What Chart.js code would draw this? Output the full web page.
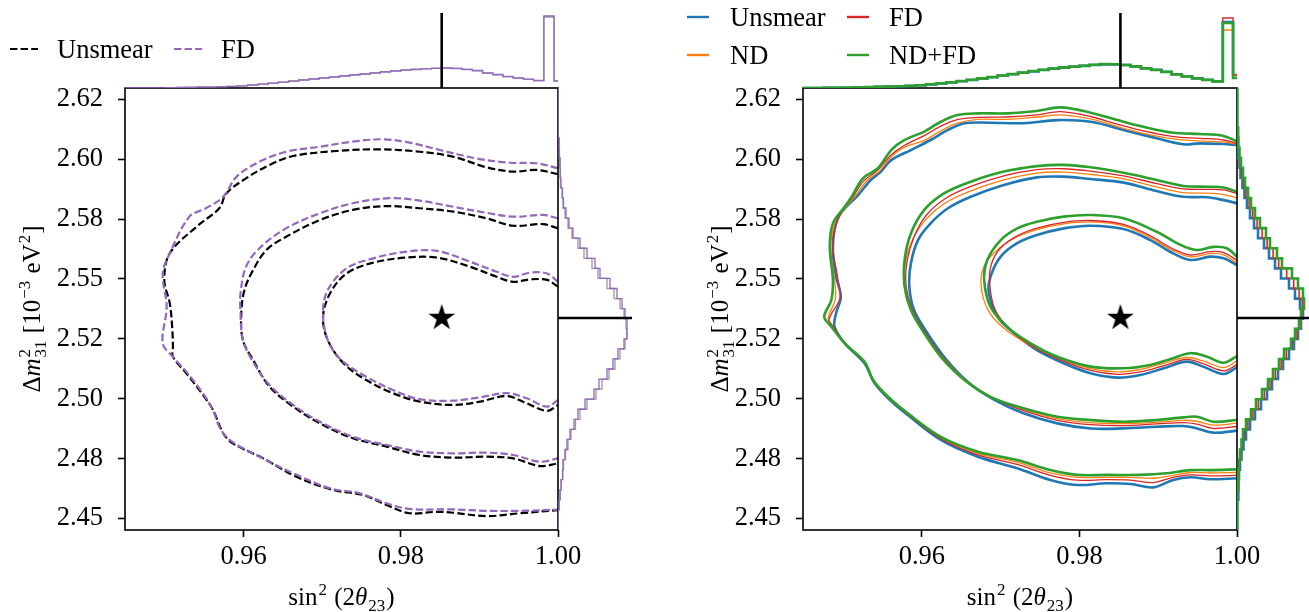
<!DOCTYPE html>
<html>
<head>
<meta charset="utf-8">
<script src="https://cdn.jsdelivr.net/npm/chart.js@4.4.1/dist/chart.umd.min.js"></script>
<style>
  body { margin: 0; background: #fff; }
  #fig { position: relative; width: 1309px; height: 612px; overflow: hidden; background: #fff;
         font-family: 'Liberation Serif', 'DejaVu Serif', serif; color: #000; }
  #fig canvas { position: absolute; }
  .sw { position: absolute; }
  .lt { position: absolute; font-size: 26.5px; line-height: 30px; white-space: nowrap; }
</style>
</head>
<body>
<div id="fig">
  <canvas id="mainL" width="600" height="532" style="left:0;top:80px"></canvas>
  <canvas id="mainR" width="620" height="532" style="left:680px;top:80px"></canvas>
  <canvas id="topL" width="433" height="80" style="left:125px;top:8px"></canvas>
  <canvas id="sideL" width="76" height="442" style="left:558px;top:88px"></canvas>
  <canvas id="topR" width="434" height="80" style="left:803px;top:8px"></canvas>
  <canvas id="sideR" width="72" height="442" style="left:1237px;top:88px"></canvas>

  <!-- left legend -->
  <svg class="sw" width="28" height="6" style="left:10px;top:46px"><line x1="0" y1="3" x2="28" y2="3" stroke="#000" stroke-width="2.2" stroke-dasharray="7.4 3.2"/></svg>
  <div class="lt" style="left:57px;top:34px">Unsmear</div>
  <svg class="sw" width="28" height="6" style="left:174px;top:46px"><line x1="0" y1="3" x2="28" y2="3" stroke="#9467bd" stroke-width="2.2" stroke-dasharray="7.4 3.2"/></svg>
  <div class="lt" style="left:221px;top:34px">FD</div>

  <!-- right legend -->
  <svg class="sw" width="22" height="6" style="left:687px;top:14px"><line x1="0" y1="3" x2="22" y2="3" stroke="#1f77b4" stroke-width="2.4"/></svg>
  <div class="lt" style="left:730px;top:2px">Unsmear</div>
  <svg class="sw" width="22" height="6" style="left:847px;top:14px"><line x1="0" y1="3" x2="22" y2="3" stroke="#d62728" stroke-width="2.4"/></svg>
  <div class="lt" style="left:889px;top:2px">FD</div>
  <svg class="sw" width="22" height="6" style="left:687px;top:52px"><line x1="0" y1="3" x2="22" y2="3" stroke="#ff7f0e" stroke-width="2.4"/></svg>
  <div class="lt" style="left:730px;top:40px">ND</div>
  <svg class="sw" width="22" height="6" style="left:847px;top:52px"><line x1="0" y1="3" x2="22" y2="3" stroke="#2ca02c" stroke-width="2.4"/></svg>
  <div class="lt" style="left:889px;top:40px">ND+FD</div>
</div>
<script>
// axes
const X_MIN = 0.9449, X_MAX = 1.0;
const Y_MIN = 2.4452, Y_MAX = 2.6297;
const xTickValues = [0.96, 0.98, 1.00];
const xTickLabels = ['0.96', '0.98', '1.00'];
const yTickValues = [2.45, 2.475, 2.5, 2.525, 2.55, 2.575, 2.6, 2.625];
const yTickLabels = ['2.45', '2.48', '2.50', '2.52', '2.55', '2.58', '2.60', '2.62'];
const bestFit = [0.9852, 2.5337];

// marginal histogram binning
const X_BIN0 = 0.9449, X_BINW = 0.0013;
const Y_BIN0 = 2.4452, Y_BINW = 0.0042;

// ---- left panel contours: [sin^2(2th23), dm2_31] ----
const lUnsmearOuter = [[1.0000,2.5937],[0.9973,2.5955],[0.9943,2.5948],[0.9909,2.5966],[0.9867,2.6010],[0.9824,2.6031],[0.9773,2.6041],[0.9718,2.6034],[0.9663,2.6013],[0.9633,2.5976],[0.9603,2.5920],[0.9578,2.5857],[0.9569,2.5795],[0.9540,2.5718],[0.9506,2.5607],[0.9499,2.5496],[0.9506,2.5398],[0.9509,2.5301],[0.9510,2.5217],[0.9510,2.5175],[0.9527,2.5106],[0.9550,2.5008],[0.9561,2.4953],[0.9574,2.4856],[0.9586,2.4814],[0.9625,2.4751],[0.9667,2.4674],[0.9714,2.4619],[0.9752,2.4598],[0.9782,2.4556],[0.9811,2.4522],[0.9846,2.4528],[0.9867,2.4524],[0.9909,2.4510],[0.9952,2.4522],[1.0000,2.4535]];
const lFdOuter = [[1.0000,2.5962],[0.9973,2.5983],[0.9939,2.5985],[0.9896,2.6003],[0.9850,2.6038],[0.9811,2.6069],[0.9777,2.6083],[0.9739,2.6073],[0.9697,2.6052],[0.9654,2.6031],[0.9620,2.5989],[0.9591,2.5927],[0.9574,2.5843],[0.9552,2.5795],[0.9531,2.5760],[0.9506,2.5607],[0.9497,2.5523],[0.9502,2.5384],[0.9497,2.5231],[0.9510,2.5175],[0.9527,2.5113],[0.9548,2.5023],[0.9561,2.4953],[0.9569,2.4883],[0.9582,2.4828],[0.9620,2.4758],[0.9663,2.4689],[0.9710,2.4626],[0.9748,2.4605],[0.9782,2.4563],[0.9811,2.4540],[0.9867,2.4538],[0.9909,2.4532],[0.9952,2.4532],[1.0000,2.4537]];
const lUnsmearMid = [[1.0000,2.5711],[0.9981,2.5729],[0.9943,2.5722],[0.9909,2.5753],[0.9867,2.5781],[0.9824,2.5795],[0.9782,2.5804],[0.9739,2.5788],[0.9697,2.5746],[0.9654,2.5676],[0.9629,2.5621],[0.9612,2.5537],[0.9601,2.5454],[0.9597,2.5357],[0.9599,2.5245],[0.9612,2.5162],[0.9633,2.5050],[0.9663,2.4967],[0.9697,2.4897],[0.9739,2.4835],[0.9782,2.4800],[0.9824,2.4765],[0.9867,2.4754],[0.9909,2.4758],[0.9943,2.4751],[0.9977,2.4719],[1.0000,2.4730]];
const lFdMid = [[1.0000,2.5753],[0.9981,2.5767],[0.9943,2.5760],[0.9909,2.5776],[0.9867,2.5801],[0.9824,2.5827],[0.9786,2.5837],[0.9739,2.5816],[0.9697,2.5774],[0.9654,2.5711],[0.9620,2.5628],[0.9603,2.5551],[0.9596,2.5440],[0.9596,2.5357],[0.9599,2.5245],[0.9612,2.5154],[0.9633,2.5057],[0.9663,2.4974],[0.9697,2.4904],[0.9739,2.4841],[0.9782,2.4807],[0.9824,2.4779],[0.9867,2.4772],[0.9909,2.4775],[0.9943,2.4765],[0.9977,2.4737],[1.0000,2.4751]];
const lUnsmearIn = [[1.0000,2.5468],[0.9986,2.5496],[0.9964,2.5498],[0.9943,2.5488],[0.9922,2.5509],[0.9888,2.5551],[0.9846,2.5589],[0.9807,2.5589],[0.9765,2.5568],[0.9731,2.5523],[0.9710,2.5440],[0.9701,2.5342],[0.9707,2.5245],[0.9727,2.5148],[0.9756,2.5078],[0.9790,2.5023],[0.9824,2.4988],[0.9867,2.4974],[0.9901,2.4988],[0.9935,2.5011],[0.9960,2.4981],[0.9986,2.4949],[1.0000,2.4974]];
const lFdIn = [[1.0000,2.5488],[0.9986,2.5523],[0.9964,2.5526],[0.9943,2.5509],[0.9922,2.5530],[0.9888,2.5572],[0.9846,2.5617],[0.9807,2.5614],[0.9765,2.5586],[0.9731,2.5544],[0.9707,2.5454],[0.9701,2.5357],[0.9707,2.5245],[0.9724,2.5162],[0.9756,2.5092],[0.9790,2.5036],[0.9824,2.4998],[0.9867,2.4992],[0.9901,2.5006],[0.9935,2.5023],[0.9960,2.5002],[0.9986,2.4967],[1.0000,2.4995]];

// ---- right panel contours ----
const rUnsmearOuter = [[1.0000,2.6059],[0.9983,2.6063],[0.9953,2.6066],[0.9932,2.6062],[0.9898,2.6087],[0.9856,2.6122],[0.9814,2.6156],[0.9772,2.6163],[0.9729,2.6150],[0.9687,2.6152],[0.9654,2.6150],[0.9633,2.6122],[0.9611,2.6080],[0.9586,2.6038],[0.9561,2.5996],[0.9548,2.5948],[0.9535,2.5913],[0.9519,2.5850],[0.9497,2.5774],[0.9489,2.5704],[0.9487,2.5607],[0.9491,2.5509],[0.9497,2.5426],[0.9491,2.5357],[0.9489,2.5301],[0.9502,2.5231],[0.9527,2.5148],[0.9540,2.5064],[0.9557,2.5002],[0.9582,2.4932],[0.9624,2.4828],[0.9671,2.4758],[0.9721,2.4710],[0.9763,2.4661],[0.9797,2.4640],[0.9835,2.4647],[0.9865,2.4644],[0.9894,2.4630],[0.9919,2.4661],[0.9941,2.4672],[0.9966,2.4664],[1.0000,2.4668]];
const rNdOuter = [[1.0000,2.6062],[0.9983,2.6072],[0.9953,2.6076],[0.9919,2.6085],[0.9881,2.6108],[0.9848,2.6136],[0.9814,2.6168],[0.9776,2.6185],[0.9746,2.6176],[0.9708,2.6166],[0.9671,2.6166],[0.9645,2.6150],[0.9624,2.6118],[0.9603,2.6078],[0.9578,2.6050],[0.9561,2.6010],[0.9546,2.5950],[0.9530,2.5910],[0.9515,2.5845],[0.9500,2.5785],[0.9488,2.5715],[0.9484,2.5630],[0.9489,2.5500],[0.9490,2.5415],[0.9481,2.5335],[0.9488,2.5298],[0.9502,2.5231],[0.9527,2.5152],[0.9539,2.5072],[0.9557,2.5005],[0.9582,2.4937],[0.9624,2.4837],[0.9671,2.4772],[0.9721,2.4735],[0.9763,2.4690],[0.9797,2.4672],[0.9835,2.4672],[0.9865,2.4672],[0.9894,2.4668],[0.9919,2.4680],[0.9941,2.4692],[0.9966,2.4690],[1.0000,2.4692]];
const rFdOuter = [[1.0000,2.6066],[0.9983,2.6080],[0.9953,2.6087],[0.9919,2.6094],[0.9881,2.6118],[0.9848,2.6146],[0.9814,2.6178],[0.9776,2.6198],[0.9746,2.6185],[0.9708,2.6176],[0.9671,2.6174],[0.9645,2.6165],[0.9624,2.6138],[0.9603,2.6098],[0.9578,2.6058],[0.9561,2.6018],[0.9544,2.5955],[0.9525,2.5905],[0.9512,2.5840],[0.9500,2.5790],[0.9490,2.5722],[0.9487,2.5630],[0.9493,2.5505],[0.9496,2.5420],[0.9482,2.5330],[0.9489,2.5295],[0.9502,2.5231],[0.9527,2.5150],[0.9539,2.5070],[0.9557,2.5004],[0.9582,2.4935],[0.9624,2.4833],[0.9671,2.4766],[0.9721,2.4726],[0.9763,2.4680],[0.9797,2.4660],[0.9835,2.4662],[0.9865,2.4660],[0.9894,2.4650],[0.9919,2.4672],[0.9941,2.4682],[0.9966,2.4678],[1.0000,2.4680]];
const rNdFdOuter = [[1.0000,2.6073],[0.9983,2.6097],[0.9953,2.6105],[0.9919,2.6110],[0.9881,2.6135],[0.9848,2.6163],[0.9814,2.6194],[0.9776,2.6216],[0.9746,2.6201],[0.9708,2.6191],[0.9671,2.6191],[0.9645,2.6184],[0.9624,2.6156],[0.9603,2.6115],[0.9578,2.6080],[0.9561,2.6038],[0.9544,2.5962],[0.9525,2.5920],[0.9512,2.5850],[0.9502,2.5801],[0.9487,2.5732],[0.9483,2.5634],[0.9487,2.5496],[0.9485,2.5412],[0.9476,2.5342],[0.9485,2.5301],[0.9502,2.5231],[0.9527,2.5155],[0.9538,2.5078],[0.9557,2.5008],[0.9582,2.4939],[0.9624,2.4841],[0.9671,2.4779],[0.9721,2.4744],[0.9763,2.4702],[0.9797,2.4682],[0.9835,2.4682],[0.9877,2.4682],[0.9911,2.4689],[0.9941,2.4702],[0.9966,2.4702],[1.0000,2.4705]];

const rUnsmearMid = [[1.0000,2.5816],[0.9983,2.5829],[0.9962,2.5841],[0.9932,2.5843],[0.9898,2.5867],[0.9856,2.5902],[0.9814,2.5917],[0.9780,2.5927],[0.9746,2.5924],[0.9704,2.5892],[0.9662,2.5843],[0.9633,2.5795],[0.9611,2.5732],[0.9595,2.5662],[0.9586,2.5565],[0.9584,2.5468],[0.9590,2.5370],[0.9607,2.5273],[0.9628,2.5175],[0.9658,2.5071],[0.9692,2.4995],[0.9729,2.4939],[0.9772,2.4897],[0.9814,2.4876],[0.9856,2.4876],[0.9898,2.4883],[0.9932,2.4886],[0.9949,2.4876],[0.9970,2.4858],[1.0000,2.4867]];
const rNdMid = [[1.0000,2.5838],[0.9983,2.5852],[0.9962,2.5858],[0.9932,2.5860],[0.9898,2.5884],[0.9856,2.5918],[0.9814,2.5936],[0.9780,2.5946],[0.9746,2.5942],[0.9704,2.5914],[0.9662,2.5868],[0.9630,2.5818],[0.9606,2.5752],[0.9589,2.5670],[0.9579,2.5570],[0.9578,2.5468],[0.9587,2.5370],[0.9604,2.5273],[0.9626,2.5175],[0.9656,2.5076],[0.9690,2.5004],[0.9729,2.4955],[0.9772,2.4917],[0.9814,2.4900],[0.9856,2.4896],[0.9898,2.4902],[0.9932,2.4910],[0.9949,2.4906],[0.9970,2.4890],[1.0000,2.4898]];
const rFdMid = [[1.0000,2.5856],[0.9983,2.5872],[0.9962,2.5874],[0.9932,2.5876],[0.9898,2.5898],[0.9856,2.5930],[0.9814,2.5950],[0.9780,2.5960],[0.9746,2.5956],[0.9704,2.5930],[0.9662,2.5886],[0.9630,2.5836],[0.9606,2.5768],[0.9590,2.5676],[0.9581,2.5572],[0.9580,2.5468],[0.9588,2.5370],[0.9605,2.5273],[0.9626,2.5175],[0.9656,2.5075],[0.9690,2.5002],[0.9729,2.4950],[0.9772,2.4910],[0.9814,2.4892],[0.9856,2.4888],[0.9898,2.4895],[0.9932,2.4900],[0.9949,2.4894],[0.9970,2.4876],[1.0000,2.4884]];
const rNdFdMid = [[1.0000,2.5864],[0.9983,2.5882],[0.9962,2.5885],[0.9932,2.5888],[0.9898,2.5913],[0.9856,2.5943],[0.9814,2.5966],[0.9780,2.5976],[0.9746,2.5971],[0.9704,2.5948],[0.9662,2.5906],[0.9628,2.5857],[0.9603,2.5788],[0.9586,2.5690],[0.9578,2.5579],[0.9578,2.5468],[0.9586,2.5370],[0.9603,2.5273],[0.9624,2.5175],[0.9654,2.5078],[0.9687,2.5008],[0.9729,2.4960],[0.9772,2.4925],[0.9814,2.4911],[0.9856,2.4904],[0.9898,2.4911],[0.9932,2.4922],[0.9949,2.4925],[0.9970,2.4904],[1.0000,2.4911]];

const rUnsmearIn = [[1.0000,2.5558],[0.9983,2.5586],[0.9966,2.5593],[0.9941,2.5579],[0.9919,2.5607],[0.9890,2.5662],[0.9856,2.5708],[0.9814,2.5722],[0.9780,2.5711],[0.9746,2.5683],[0.9721,2.5649],[0.9700,2.5593],[0.9687,2.5509],[0.9685,2.5440],[0.9696,2.5342],[0.9717,2.5273],[0.9746,2.5203],[0.9780,2.5148],[0.9814,2.5106],[0.9848,2.5088],[0.9877,2.5099],[0.9907,2.5127],[0.9936,2.5155],[0.9957,2.5134],[0.9983,2.5103],[1.0000,2.5131]];
const rNdIn = [[1.0000,2.5566],[0.9983,2.5600],[0.9966,2.5606],[0.9941,2.5592],[0.9919,2.5618],[0.9890,2.5672],[0.9856,2.5722],[0.9814,2.5738],[0.9780,2.5730],[0.9746,2.5706],[0.9721,2.5676],[0.9698,2.5628],[0.9680,2.5560],[0.9675,2.5480],[0.9684,2.5370],[0.9705,2.5292],[0.9738,2.5222],[0.9774,2.5168],[0.9814,2.5126],[0.9848,2.5112],[0.9877,2.5122],[0.9907,2.5148],[0.9936,2.5172],[0.9957,2.5158],[0.9983,2.5130],[1.0000,2.5158]];
const rFdIn = [[1.0000,2.5578],[0.9983,2.5610],[0.9966,2.5614],[0.9941,2.5600],[0.9919,2.5625],[0.9890,2.5680],[0.9856,2.5728],[0.9814,2.5744],[0.9780,2.5736],[0.9746,2.5712],[0.9721,2.5680],[0.9700,2.5630],[0.9688,2.5560],[0.9686,2.5480],[0.9693,2.5370],[0.9712,2.5290],[0.9742,2.5215],[0.9777,2.5160],[0.9814,2.5118],[0.9848,2.5102],[0.9877,2.5112],[0.9907,2.5138],[0.9936,2.5164],[0.9957,2.5146],[0.9983,2.5116],[1.0000,2.5142]];
const rNdFdIn = [[1.0000,2.5593],[0.9987,2.5628],[0.9970,2.5634],[0.9949,2.5621],[0.9928,2.5642],[0.9898,2.5697],[0.9856,2.5753],[0.9814,2.5767],[0.9780,2.5760],[0.9746,2.5739],[0.9721,2.5711],[0.9700,2.5662],[0.9683,2.5579],[0.9679,2.5496],[0.9687,2.5384],[0.9708,2.5301],[0.9738,2.5231],[0.9772,2.5175],[0.9814,2.5134],[0.9856,2.5127],[0.9890,2.5141],[0.9915,2.5165],[0.9941,2.5190],[0.9962,2.5175],[0.9983,2.5150],[1.0000,2.5178]];

// ---- marginal histograms (arbitrary units) ----
const lTopUnsmear = [0,0,0.1,0.2,0.4,0.6,0.8,1.0,1.1,1.3,1.6,2.1,2.9,3.8,4.8,5.9,7.0,8.1,9.1,10.2,11.2,12.2,13.3,14.2,15.2,16.3,17.2,18.0,18.8,19.4,19.9,20.2,19.6,18.5,17.2,14.8,13.2,11.3,9.8,8.6,7.4,71,7.2];
const lTopFd = [0,0,0.1,0.2,0.3,0.5,0.7,0.9,0.9,1.2,1.6,2.2,3.0,3.9,4.9,5.9,6.9,8.0,9.0,10.0,11.0,12.0,13.0,14.0,15.0,16.0,17.0,17.8,18.5,19.2,19.7,20.0,19.5,18.6,17.5,15.0,13.5,11.5,10.0,8.8,7.5,72,7.0];
const lSideUnsmear = [0,0.6,1.2,2.2,3.3,4.8,5.5,7.5,10,13,17.5,22,29,38,44,51,57,62,67,69,68,66,62,56,49,40,34,26,20,14,10,7,5,4,2.8,2.2,1.8,1.3,0.9,0.7,0.4,0.2,0.1,0];
const lSideFd = [0,0.5,1,2,3,4.5,5,7,9,12,16,20,27,36,41,49,55,60,66,69,69,67,64,59,52,42,37,29,22,15,11,8,5.5,4.5,3,2.5,2,1.5,1,0.8,0.5,0.3,0.1,0];

const rTopUnsmear = [0,0,0.1,0.2,0.3,0.5,0.8,1.1,1.4,1.7,2.1,2.7,3.5,4.5,5.6,6.8,8.0,9.4,10.8,12.2,13.8,15.2,16.6,18.0,19.2,20.3,21.3,22.1,23.0,23.6,23.6,23.0,21.6,19.8,18.2,16.2,13.8,11.8,9.8,8.2,6.8,66,13];
const rTopNd = [0,0,0.1,0.2,0.4,0.6,0.9,1.2,1.5,1.9,2.3,2.9,3.7,4.6,5.7,6.9,8.2,9.5,10.9,12.4,13.9,15.3,16.8,18.1,19.3,20.4,21.4,22.2,23.1,23.8,23.7,22.9,21.5,19.6,18.1,16.1,13.6,11.6,9.6,8.1,6.6,58,13];
const rTopFd = [0,0,0.1,0.2,0.3,0.5,0.8,1.1,1.4,1.8,2.2,2.8,3.6,4.6,5.7,6.9,8.1,9.5,10.9,12.3,13.9,15.4,16.9,18.2,19.4,20.5,21.4,22.2,23.2,23.9,23.8,23.1,21.6,19.7,18.0,16.0,13.7,11.7,9.7,8.1,6.7,70,13];
const rTopNdFd = [0,0,0.1,0.2,0.4,0.6,0.9,1.2,1.5,1.8,2.0,2.8,3.7,4.7,5.8,7.0,8.3,9.6,11.0,12.5,14.0,15.5,17.0,18.3,19.5,20.6,21.5,22.3,23.3,24.0,23.8,23.0,21.5,19.5,18.0,16.0,13.5,11.5,9.5,8.0,6.5,65,10];
const rSideUnsmear = [0,0.2,0.5,1,1.5,2,3,4.5,6.5,9,13,18,24,30,35,41,46,52,57,61,64,66,63,58,52,44,38,32,27,21,17,13,10,7.5,5.5,3.5,2.5,1.5,1,0.6,0.3,0.1,0,0];
const rSideNd = [0,0.1,0.4,0.7,1.1,1.7,2.3,3.5,5.2,7,10.5,15.5,21,27,33,38,44.5,49,55,59.5,63.5,65,65.5,62.5,57,50,42,36.5,30.5,25.5,20.5,16,12.5,9.5,7,5,3.4,2.2,1.3,0.8,0.5,0.2,0,0];
const rSideFd = [0,0.1,0.4,0.8,1.2,1.8,2.5,3.8,5.5,7.5,11,16,21.5,27.5,33,38.5,44,49.5,55.5,60,63,65.5,65,62,56.5,49.5,41.5,36,30,25,20,15.5,12,9,6.7,4.7,3.2,2,1.2,0.8,0.4,0.2,0,0];
const rSideNdFd = [0,0,0.3,0.6,1,1.5,2,3,4.5,6,9,14,19,25,31,36,42,47,54,58,62,64,67,66,61,55,45,40,33,29,23,18,14,11,8,6,4,2.5,1.5,1,0.6,0.3,0.1,0];

const COL = { unsmear: '#000', fd: '#9467bd', blue: '#1f77b4', orange: '#ff7f0e', red: '#d62728', green: '#2ca02c' };
const FONT = "'Liberation Serif', 'DejaVu Serif', serif";

Chart.defaults.font.family = FONT;
Chart.defaults.font.size = 26.5;
Chart.defaults.color = '#000';

const pts = a => a.map(([x, y]) => ({ x, y }));

function binEdges(start, width, n) {
    return Array.from({ length: n + 1 }, (_, i) => start + i * width);
}

// step outline of a histogram along x (drawn upward)
function stepTop(counts) {
    const e = binEdges(X_BIN0, X_BINW, counts.length);
    const out = [{ x: e[0], y: 0 }];
    counts.forEach((c, i) => out.push({ x: e[i], y: c }, { x: e[i + 1], y: c }));
    out.push({ x: e[counts.length], y: 0 });
    return out;
}

// step outline of a histogram along y (drawn to the right)
function stepSide(counts) {
    const e = binEdges(Y_BIN0, Y_BINW, counts.length);
    const out = [{ x: 0, y: e[0] }];
    counts.forEach((c, i) => out.push({ x: c, y: e[i] }, { x: c, y: e[i + 1] }));
    out.push({ x: 0, y: e[counts.length] });
    return out;
}

function starImage(R) {
    const s = Math.ceil(2 * R + 2), c = document.createElement('canvas');
    c.width = c.height = s;
    const g = c.getContext('2d');
    g.beginPath();
    for (let k = 0; k < 10; k++) {
        const r = k % 2 ? R * 0.382 : R, a = -Math.PI / 2 + k * Math.PI / 5;
        const px = s / 2 + r * Math.cos(a), py = s / 2 + r * Math.sin(a);
        k ? g.lineTo(px, py) : g.moveTo(px, py);
    }
    g.closePath(); g.fillStyle = '#000'; g.fill();
    return c;
}
const STAR = starImage(14);

// title pieces: t = text, i = italic, sup/sub = small scripts
const xTitle = [{ t: 'sin' }, { sup: '2' }, { t: ' (2' }, { t: 'θ', i: true }, { sub: '23' }, { t: ')' }];
const yTitle = [{ t: 'Δ' }, { t: 'm', i: true }, { sup: '2', sub: '31' }, { t: ' [10' }, { sup: '−3' }, { t: ' eV' }, { sup: '2' }, { t: ']' }];

function drawRich(ctx, parts, cx, cy, rotated) {
    const big = 25, small = 17;
    const f = (sz, it) => `${it ? 'italic ' : ''}${sz}px ${FONT}`;
    let w = 0;
    const placed = parts.map(p => {
        const x = w;
        if (p.t !== undefined) { ctx.font = f(big, p.i); w += ctx.measureText(p.t).width; }
        else {
            ctx.font = f(small, false);
            w += Math.max(p.sup ? ctx.measureText(p.sup).width : 0, p.sub ? ctx.measureText(p.sub).width : 0) + 2;
        }
        return { x, p };
    });
    ctx.save();
    ctx.translate(cx, cy);
    if (rotated) ctx.rotate(-Math.PI / 2);
    ctx.textBaseline = 'alphabetic';
    ctx.fillStyle = '#000';
    placed.forEach(({ x, p }) => {
        const x0 = x - w / 2;
        if (p.t !== undefined) { ctx.font = f(big, p.i); ctx.fillText(p.t, x0, 0); return; }
        ctx.font = f(small, false);
        if (p.sup) ctx.fillText(p.sup, x0 + 1, -10);
        if (p.sub) ctx.fillText(p.sub, x0 + 1, 6);
    });
    ctx.restore();
}

const frame = {
    id: 'frame',
    afterDatasetsDraw(chart) {
        const { ctx, chartArea: a } = chart;
        ctx.save();
        ctx.strokeStyle = '#000'; ctx.lineWidth = 1.6;
        ctx.strokeRect(a.left, a.top, a.right - a.left, a.bottom - a.top);
        ctx.restore();
    }
};

const axisTitles = {
    id: 'axisTitles',
    afterDraw(chart, args, opts) {
        const a = chart.chartArea;
        drawRich(chart.ctx, xTitle, (a.left + a.right) / 2, opts.xBaseline, false);
        drawRich(chart.ctx, yTitle, opts.yBaseline, (a.top + a.bottom) / 2, true);
    }
};

const tickGrid = { display: true, drawOnChartArea: false, drawTicks: true, tickLength: 7, tickWidth: 1.6, tickColor: '#000' };

// fixed axis sizes, and no extra room for overhanging end labels
const fixX = s => { s.height = 40; s.paddingLeft = s.paddingRight = 0; };
const fixY = s => { s.width = 70; s.paddingTop = s.paddingBottom = 0; };

function mainChart(id, datasets, pad, yBaseline) {
    return new Chart(document.getElementById(id), {
        type: 'scatter',
        data: { datasets },
        options: {
            responsive: false, animation: false, events: [],
            layout: { autoPadding: false, padding: pad },
            elements: { point: { radius: 0 }, line: { fill: false } },
            plugins: { legend: { display: false }, tooltip: { enabled: false }, axisTitles: { xBaseline: 525, yBaseline } },
            scales: {
                x: {
                    min: X_MIN, max: X_MAX,
                    afterBuildTicks: s => { s.ticks = xTickValues.map(value => ({ value })); },
                    afterFit: fixX,
                    ticks: { autoSkip: false, maxRotation: 0, padding: 4, callback: (v, i) => xTickLabels[i] },
                    grid: tickGrid, border: { display: false }
                },
                y: {
                    min: Y_MIN, max: Y_MAX,
                    afterBuildTicks: s => { s.ticks = yTickValues.map(value => ({ value })); },
                    afterFit: fixY,
                    ticks: { autoSkip: false, padding: 15, callback: (v, i) => yTickLabels[i] },
                    grid: tickGrid, border: { display: false }
                }
            }
        },
        plugins: [frame, axisTitles]
    });
}

function marginal(id, datasets, xr, yr) {
    return new Chart(document.getElementById(id), {
        type: 'scatter',
        data: { datasets },
        options: {
            responsive: false, animation: false, events: [],
            layout: { autoPadding: false, padding: 0 },
            elements: { point: { radius: 0 } },
            plugins: { legend: { display: false }, tooltip: { enabled: false } },
            scales: {
                x: { display: false, min: xr[0], max: xr[1] },
                y: { display: false, min: yr[0], max: yr[1] }
            }
        }
    });
}

const contour = (data, color, width, order, dash) => ({
    data: pts(data), showLine: true, borderColor: color, borderWidth: width,
    borderDash: dash || [], tension: 0.35, order
});
const hist = (data, color, width, order) => ({
    data, showLine: true, borderColor: color, borderWidth: width, tension: 0, order
});
const star = { data: pts([bestFit]), pointStyle: STAR, pointRadius: 14, showLine: false, order: 0 };
const DASH = [7.4, 3.2];

// left panel: Unsmear vs FD
mainChart('mainL', [
    star,
    contour(lFdOuter, COL.fd, 2.2, 1, DASH), contour(lFdMid, COL.fd, 2.2, 1, DASH), contour(lFdIn, COL.fd, 2.2, 1, DASH),
    contour(lUnsmearOuter, COL.unsmear, 2.2, 2, DASH), contour(lUnsmearMid, COL.unsmear, 2.2, 2, DASH), contour(lUnsmearIn, COL.unsmear, 2.2, 2, DASH)
], { left: 55, top: 8, right: 42, bottom: 42 }, 40);

marginal('topL', [
    hist([{ x: bestFit[0], y: 0 }, { x: bestFit[0], y: 75 }], '#000', 2.6, 0),
    hist(stepTop(lTopFd), COL.fd, 1.3, 1),
    hist(stepTop(lTopUnsmear), 'rgba(0,0,0,0.4)', 1.3, 2)
], [X_MIN, X_MAX], [0, 80]);

marginal('sideL', [
    hist([{ x: 0, y: bestFit[1] }, { x: 74, y: bestFit[1] }], '#000', 2.6, 0),
    hist(stepSide(lSideFd), COL.fd, 1.3, 1),
    hist(stepSide(lSideUnsmear), 'rgba(0,0,0,0.4)', 1.3, 2)
], [0, 76], [Y_MIN, Y_MAX]);

// right panel: Unsmear, ND, FD, ND+FD
mainChart('mainR', [
    star,
    contour(rNdFdOuter, COL.green, 2.6, 1), contour(rNdFdMid, COL.green, 2.6, 1), contour(rNdFdIn, COL.green, 2.6, 1),
    contour(rFdOuter, COL.red, 1.3, 2), contour(rFdMid, COL.red, 1.3, 2), contour(rFdIn, COL.red, 1.3, 2),
    contour(rNdOuter, COL.orange, 1.3, 3), contour(rNdMid, COL.orange, 1.3, 3), contour(rNdIn, COL.orange, 1.3, 3),
    contour(rUnsmearOuter, COL.blue, 2.6, 4), contour(rUnsmearMid, COL.blue, 2.6, 4), contour(rUnsmearIn, COL.blue, 2.6, 4)
], { left: 53, top: 8, right: 63, bottom: 42 }, 48);

marginal('topR', [
    hist([{ x: bestFit[0], y: 0 }, { x: bestFit[0], y: 75 }], '#000', 2.6, 0),
    hist(stepTop(rTopNdFd), COL.green, 2.6, 1),
    hist(stepTop(rTopFd), COL.red, 1.3, 2),
    hist(stepTop(rTopNd), COL.orange, 1.3, 3),
    hist(stepTop(rTopUnsmear), COL.blue, 2.6, 4)
], [X_MIN, X_MAX], [0, 80]);

marginal('sideR', [
    hist([{ x: 0, y: bestFit[1] }, { x: 72, y: bestFit[1] }], '#000', 2.6, 0),
    hist(stepSide(rSideNdFd), COL.green, 2.6, 1),
    hist(stepSide(rSideFd), COL.red, 1.3, 2),
    hist(stepSide(rSideNd), COL.orange, 1.3, 3),
    hist(stepSide(rSideUnsmear), COL.blue, 2.6, 4)
], [0, 72], [Y_MIN, Y_MAX]);
</script>
</body>
</html>
